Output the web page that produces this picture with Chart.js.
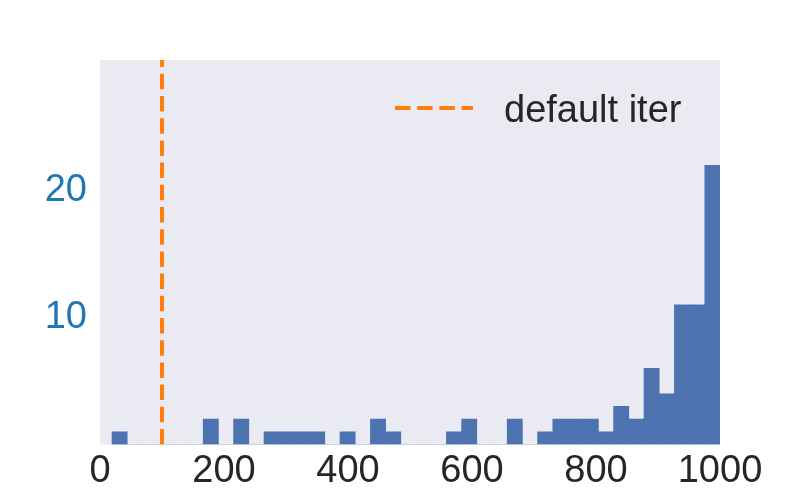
<!DOCTYPE html>
<html>
<head>
<meta charset="utf-8">
<script src="https://cdn.jsdelivr.net/npm/chart.js@4.4.0/dist/chart.umd.min.js"></script>
<style>
  body { margin: 0; background: #ffffff; }
</style>
</head>
<body>
<canvas id="myChart" width="800" height="500"></canvas>
<script>
// histogram: 40 equal bins between binMin and binMax
const binMin = 19.4;
const binMax = 1000;
const counts = [
  1, 0, 0, 0, 0, 0, 2, 0, 2, 0,
  1, 1, 1, 1, 0, 1, 0, 2, 1, 0,
  0, 0, 1, 2, 0, 0, 2, 0, 1, 2,
  2, 2, 1, 3, 2, 6, 4, 11, 11, 22
];
const defaultIter = 100;
const legendLabel = "default iter";
const xTicks = [0, 200, 400, 600, 800, 1000];
const yTicks = [10, 20];
const yMax = 30.3;

const binWidth = (binMax - binMin) / counts.length;
const barData = counts.map((c, i) => ({ x: binMin + binWidth * (i + 0.5), y: c }));
const iterLine = [{ x: defaultIter, y: 0 }, { x: defaultIter, y: yMax }];

const FONT = "'Liberation Sans', Arial, sans-serif";

const plotBackground = {
  id: "plotBackground",
  beforeDraw(chart) {
    const { ctx, chartArea } = chart;
    ctx.save();
    ctx.fillStyle = "#eaeaf2";
    ctx.fillRect(chartArea.left, chartArea.top, chartArea.right - chartArea.left, chartArea.bottom - chartArea.top);
    ctx.restore();
  }
};

// legend drawn inside the plot, upper right
const insideLegend = {
  id: "insideLegend",
  afterDraw(chart) {
    const { ctx, chartArea } = chart;
    const y = chartArea.top + 48;
    ctx.save();
    ctx.strokeStyle = "#ff7f0e";
    ctx.lineWidth = 4;
    ctx.setLineDash([15.5, 6.7]);
    ctx.beginPath();
    ctx.moveTo(chartArea.right - 325, y);
    ctx.lineTo(chartArea.right - 247, y);
    ctx.stroke();
    ctx.setLineDash([]);
    ctx.fillStyle = "#262626";
    ctx.font = "38px " + FONT;
    ctx.textBaseline = "alphabetic";
    ctx.fillText(legendLabel, chartArea.right - 216, y + 14);
    ctx.restore();
  }
};

new Chart(document.getElementById("myChart"), {
  type: "bar",
  data: {
    datasets: [
      {
        type: "bar",
        data: barData,
        backgroundColor: "#4c72b0",
        borderWidth: 0,
        barPercentage: 1.0,
        categoryPercentage: 1.0,
        order: 2
      },
      {
        type: "line",
        data: iterLine,
        borderColor: "#ff7f0e",
        borderWidth: 4,
        borderDash: [15.5, 6.7],
        pointRadius: 0,
        fill: false,
        order: 1
      }
    ]
  },
  options: {
    responsive: false,
    devicePixelRatio: 1,
    animation: false,
    layout: { padding: { top: 60, right: 80, left: 0, bottom: 0 } },
    plugins: {
      legend: { display: false },
      tooltip: { enabled: false }
    },
    scales: {
      x: {
        type: "linear",
        min: 0,
        max: 1000,
        offset: false,
        grid: { display: false, drawTicks: false },
        border: { display: false },
        afterBuildTicks: (scale) => { scale.ticks = xTicks.map(v => ({ value: v })); },
        afterFit: (scale) => { scale.height = 55.5; },
        ticks: {
          color: "#262626",
          font: { family: FONT, size: 38 },
          padding: 4,
          maxRotation: 0,
          autoSkip: false,
          callback: (v) => String(v)
        }
      },
      y: {
        min: 0,
        max: yMax,
        grid: { display: false, drawTicks: false },
        border: { display: false },
        afterBuildTicks: (scale) => { scale.ticks = yTicks.map(v => ({ value: v })); },
        afterFit: (scale) => { scale.width = 100; },
        ticks: {
          color: "#1f77b4",
          font: { family: FONT, size: 38 },
          padding: 13,
          callback: (v) => String(v)
        }
      }
    }
  },
  plugins: [plotBackground, insideLegend]
});
</script>
</body>
</html>
